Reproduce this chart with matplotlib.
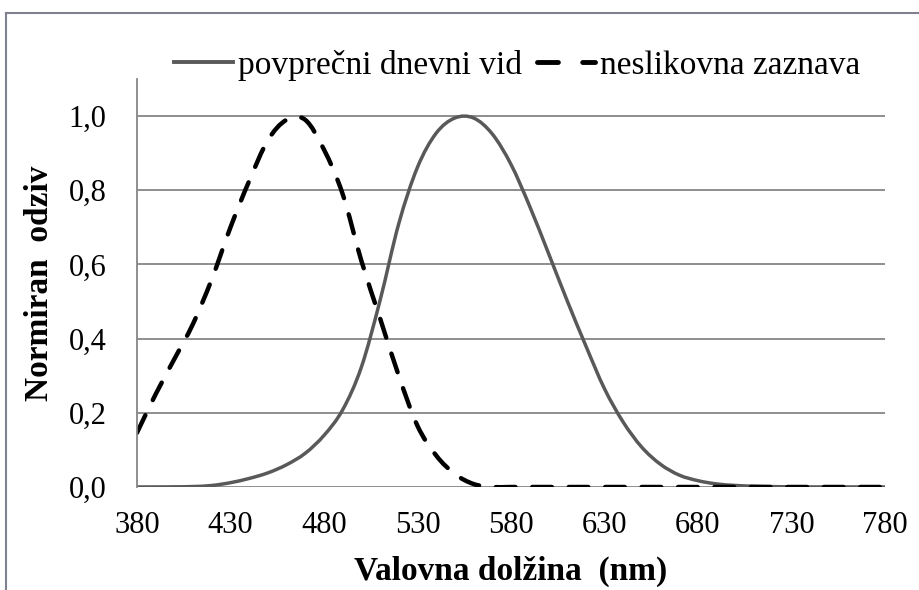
import matplotlib
matplotlib.use("Agg")
import numpy as np
import matplotlib.pyplot as plt
from matplotlib.lines import Line2D
from matplotlib.path import Path
from matplotlib.patches import PathPatch

plt.rcParams['font.family'] = ['Liberation Serif', 'DejaVu Serif']

# photopic (daytime) luminous efficiency, normalized
wl_day = [380, 390, 400, 410, 420, 430, 440, 450, 460, 470, 480, 490, 500, 510,
          520, 530, 540, 550, 560, 570, 580, 590, 600, 610, 620, 630, 640,
          650, 660, 670, 680, 690, 700, 710, 720, 730, 740, 750, 760, 770, 780]
resp_day = [0.0000, 0.0001, 0.0004, 0.0012, 0.0040, 0.0116, 0.023, 0.038, 0.060,
            0.091, 0.139, 0.208, 0.323, 0.503, 0.710, 0.862, 0.954, 0.995,
            0.995, 0.952, 0.870, 0.757, 0.631, 0.503, 0.381, 0.265, 0.175, 0.107,
            0.061, 0.032, 0.017, 0.0082, 0.0041, 0.0021, 0.0010, 0.0005, 0.0002,
            0.0001, 0.0001, 0.0, 0.0]

# non-image-forming sensitivity, normalized
wl_nif = [380, 390, 400, 410, 420, 430, 440, 450, 460, 470, 480, 490, 500,
          510, 520, 530, 540, 550, 560, 570, 580, 600, 650, 700, 750, 780]
resp_nif = [0.146, 0.25, 0.345, 0.44, 0.56, 0.70, 0.825, 0.935, 0.99, 0.99,
            0.91, 0.79, 0.61, 0.455, 0.30, 0.165, 0.085, 0.035, 0.008, 0.0, 0.0,
            0.0, 0.0, 0.0, 0.0, 0.0]

x_ticks = list(range(380, 781, 50))
y_ticks = [0.0, 0.2, 0.4, 0.6, 0.8, 1.0]


def smooth_path(xs, ys):
    # Excel-style smoothed line: cubic Bezier through every point
    p = np.column_stack([xs, ys]).astype(float)
    n = len(p)
    verts = [p[0]]
    codes = [Path.MOVETO]
    for i in range(n - 1):
        p0 = p[i - 1] if i > 0 else p[i]
        p3 = p[i + 2] if i + 2 < n else p[i + 1]
        c1 = p[i] + (p[i + 1] - p0) / 6.0
        c2 = p[i + 1] - (p3 - p[i]) / 6.0
        verts += [c1, c2, p[i + 1]]
        codes += [Path.CURVE4] * 3
    return Path(verts, codes)


fig = plt.figure(figsize=(9.19, 5.90), dpi=100)
ax = fig.add_axes([0.149, 0.1746, 0.814, 0.6914])

ax.add_patch(PathPatch(smooth_path(wl_day, resp_day), fill=False,
                       edgecolor='#595959', lw=2.5, capstyle='round'))
ax.add_patch(PathPatch(smooth_path(wl_nif, resp_nif), fill=False,
                       edgecolor='black', lw=3.2, linestyle=(0, (4.4, 3.8)),
                       capstyle='round'))

ax.set_xlim(380, 780)
ax.set_ylim(0, 1.1)
ax.set_xticks(x_ticks)
ax.set_yticks(y_ticks)
ax.set_yticklabels([f'{v:.1f}'.replace('.', ',') for v in y_ticks])
ax.tick_params(length=0, labelsize=22)
ax.tick_params(axis='x', pad=17)
ax.tick_params(axis='y', pad=22)
ax.grid(axis='y', color='#868686', lw=1.3)
ax.set_axisbelow(True)
for s in ['top', 'right', 'bottom']:
    ax.spines[s].set_visible(False)
ax.spines['left'].set_color('#868686')
ax.spines['left'].set_linewidth(1.3)

ax.set_xlabel('Valovna dolžina  (nm)', fontsize=24, fontweight='bold', labelpad=12)
ax.set_ylabel('Normiran  odziv', fontsize=24, fontweight='bold', labelpad=10)

handles = [Line2D([], [], color='#595959', lw=2.8),
           Line2D([], [], color='black', lw=3.5, dashes=(4.3, 5.0),
                  dash_capstyle='round')]
labels = ['povprečni dnevni vid', 'neslikovna zaznava']
fig.legend(handles, labels, loc='center', bbox_to_anchor=(0.563, 0.889), ncol=2,
           frameon=False, prop={'family': 'Liberation Serif', 'size': 24},
           handlelength=1.75, handletextpad=0.15, columnspacing=0.45)

# outer frame (left and top edges visible)
fig.add_artist(Line2D([0.006, 0.006], [0.0, 0.978], color='#7f8090', lw=1.5))
fig.add_artist(Line2D([0.006, 1.0], [0.978, 0.978], color='#7f8090', lw=1.5))

fig.savefig('out.png', dpi=100)
